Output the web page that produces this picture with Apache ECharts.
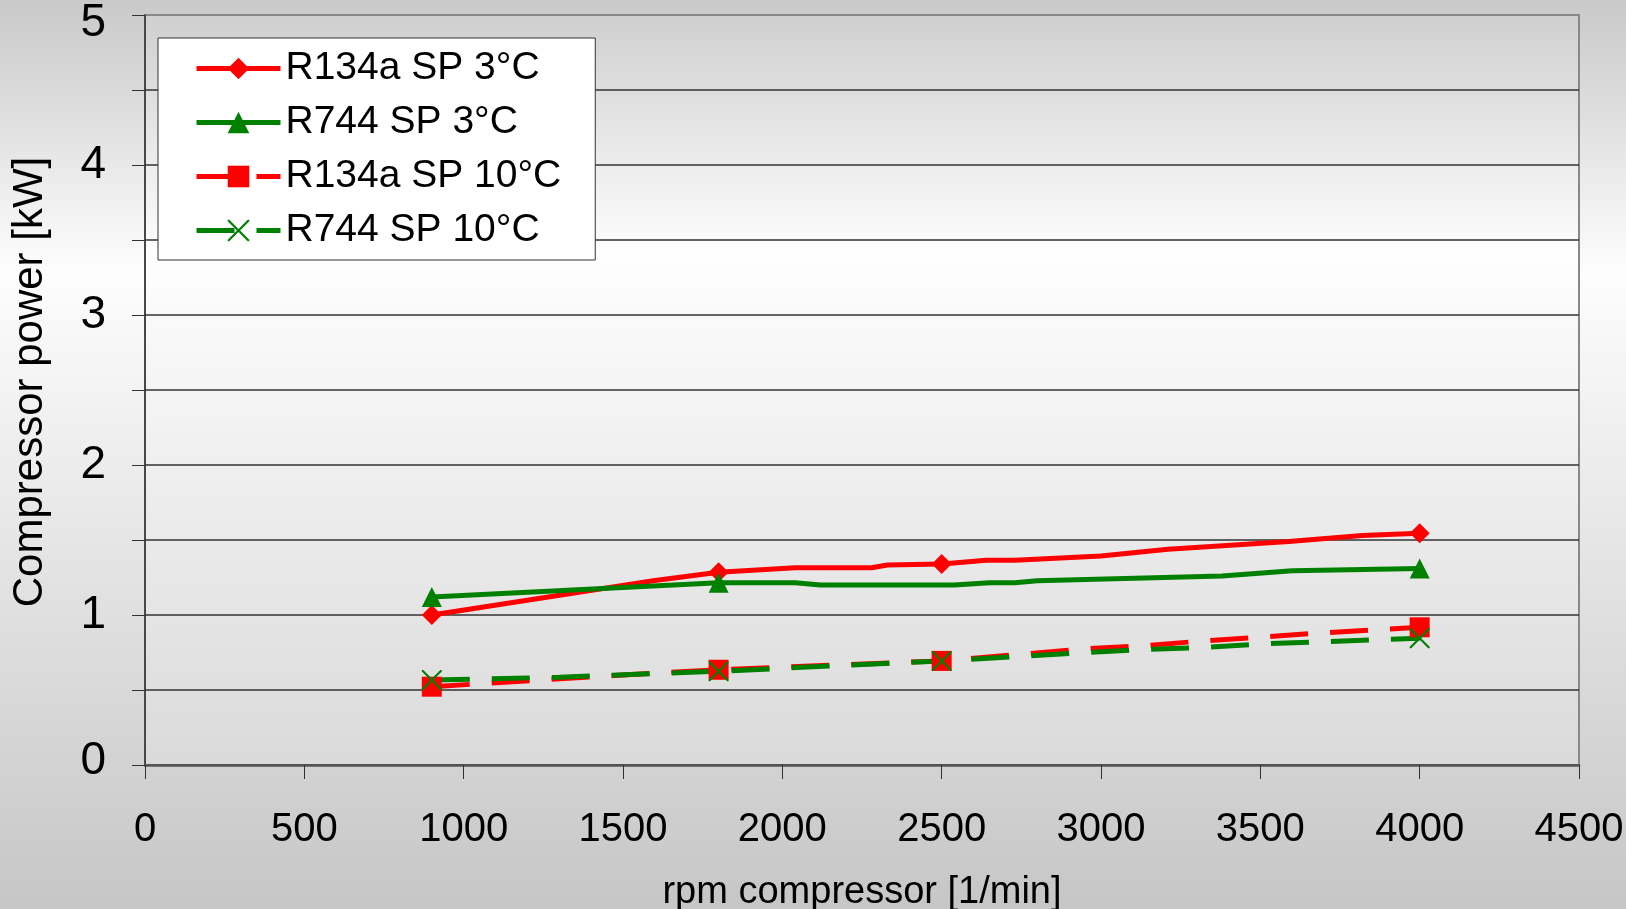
<!DOCTYPE html>
<html>
<head>
<meta charset="utf-8">
<script src="https://cdn.jsdelivr.net/npm/echarts@6/dist/echarts.min.js"></script>
<style>
  html, body { margin: 0; padding: 0; }
  #main { width: 1626px; height: 909px; }
</style>
</head>
<body>
<div id="main"></div>
<script>
// rpm values where the markers sit
var markerRpm = [900, 1800, 2500, 4000];

// R134a SP 3°C
var r134a3Rpm = [900, 1600, 1800, 2040, 2280, 2330, 2500, 2640, 2730, 3000, 3210, 3590, 3820, 4000];
var r134a3Kw  = [1.00, 1.23, 1.285, 1.315, 1.315, 1.333, 1.34, 1.365, 1.365, 1.394, 1.438, 1.49, 1.53, 1.545];

// R744 SP 3°C
var r7443Rpm = [900, 1800, 2040, 2120, 2540, 2650, 2730, 2800, 3380, 3600, 4000];
var r7443Kw  = [1.12, 1.215, 1.215, 1.20, 1.20, 1.215, 1.215, 1.228, 1.26, 1.295, 1.31];

// R134a SP 10°C
var r134a10Rpm = [900, 1500, 1800, 2500, 2760, 2950, 3140, 3320, 3690, 4000];
var r134a10Kw  = [0.522, 0.60, 0.635, 0.694, 0.74, 0.774, 0.796, 0.827, 0.88, 0.918];

// R744 SP 10°C
var r74410Rpm = [900, 1300, 1800, 2500, 2950, 3150, 3320, 3500, 4000];
var r74410Kw  = [0.567, 0.585, 0.625, 0.694, 0.75, 0.772, 0.783, 0.807, 0.845];

var seriesNames = ['R134a SP 3°C', 'R744 SP 3°C', 'R134a SP 10°C', 'R744 SP 10°C'];

var FONT = '"Liberation Sans", Arial, sans-serif';
var crossPath = 'path://M0,0 L1.5,0 L10,8.5 L18.5,0 L20,0 L20,1.5 L11.5,10 L20,18.5 L20,20 L18.5,20 L10,11.5 L1.5,20 L0,20 L0,18.5 L8.5,10 L0,1.5 Z';

function pts(xs, ys) {
    var out = [];
    for (var i = 0; i < xs.length; i++) {
        var item = { value: [xs[i], ys[i]] };
        if (markerRpm.indexOf(xs[i]) < 0) item.symbol = 'none';
        out.push(item);
    }
    return out;
}

function mkSeries(name, xs, ys, color, symbol, dashed) {
    return {
        name: name,
        type: 'line',
        data: pts(xs, ys),
        symbol: symbol,
        symbolSize: 20,
        showAllSymbol: true,
        itemStyle: { color: color },
        lineStyle: { color: color, width: 5, type: dashed ? [38, 22] : 'solid' },
        emphasis: { disabled: true },
        animation: false
    };
}

var chart = echarts.init(document.getElementById('main'));

var option = {
    backgroundColor: new echarts.graphic.LinearGradient(0, 0, 0, 1, [
        { offset: 0, color: '#c9c9c9' },
        { offset: 0.3, color: '#fdfdfd' },
        { offset: 1, color: '#c6c6c6' }
    ]),
    textStyle: { fontFamily: FONT },
    grid: {
        left: 145, right: 47, top: 15, bottom: 144,
        outerBoundsMode: 'none',
        containLabel: false,
        show: true,
        borderColor: '#888',
        borderWidth: 2,
        backgroundColor: new echarts.graphic.LinearGradient(0, 0, 0, 1, [
            { offset: 0, color: '#cfcfcf' },
            { offset: 0.32, color: '#fefefe' },
            { offset: 1, color: '#dadada' }
        ])
    },
    legend: {
        orient: 'vertical',
        left: 158,
        top: 38,
        data: seriesNames,
        itemWidth: 84,
        itemHeight: 27,
        itemGap: 15,
        padding: [11, 34, 10, 36],
        backgroundColor: '#fff',
        borderColor: '#333',
        borderWidth: 1,
        borderRadius: 0,
        selectedMode: false,
        lineStyle: { width: 5 },
        textStyle: { fontSize: 39, color: '#000', fontFamily: FONT, lineHeight: 27 }
    },
    xAxis: {
        type: 'value',
        min: 0, max: 4500, interval: 500,
        name: 'rpm compressor [1/min]',
        nameLocation: 'middle',
        nameGap: 109,
        nameTextStyle: { fontSize: 38, color: '#000', fontFamily: FONT },
        axisLine: { show: true, lineStyle: { color: '#555', width: 2.5 } },
        axisTick: { show: true, length: 14, lineStyle: { color: '#333', width: 1 } },
        axisLabel: {
            fontSize: 40, color: '#000', margin: 45, fontFamily: FONT,
            formatter: function (v) { return String(v); }
        },
        splitLine: { show: false }
    },
    yAxis: {
        type: 'value',
        min: 0, max: 5, interval: 0.5,
        name: 'Compressor power [kW]',
        nameLocation: 'middle',
        nameGap: 94,
        nameTextStyle: { fontSize: 42, color: '#000', fontFamily: FONT, padding: [0, 0, 0, 16] },
        axisLine: { show: true, lineStyle: { color: '#333', width: 1.5 } },
        axisTick: { show: true, length: 13, lineStyle: { color: '#333', width: 1 } },
        axisLabel: {
            fontSize: 46, color: '#000', margin: 39, fontFamily: FONT,
            formatter: function (v) {
                if (v === 5) return '{top|5}';
                if (v === 0) return '{bot|0}';
                return v % 1 === 0 ? String(v) : '';
            },
            rich: {
                top: { fontSize: 46, color: '#000', fontFamily: FONT, padding: [17, 0, 0, 0] },
                bot: { fontSize: 46, color: '#000', fontFamily: FONT, padding: [0, 0, 8, 0] }
            }
        },
        splitLine: {
            show: true,
            lineStyle: {
                color: ['#333', '#333', '#333', '#333', '#333', '#333', '#333', '#333', '#333', '#333', '#888'],
                width: 1.5
            }
        }
    },
    series: [
        mkSeries(seriesNames[0], r134a3Rpm, r134a3Kw, '#ff0000', 'diamond', false),
        mkSeries(seriesNames[1], r7443Rpm, r7443Kw, '#008000', 'triangle', false),
        mkSeries(seriesNames[2], r134a10Rpm, r134a10Kw, '#ff0000', 'rect', true),
        mkSeries(seriesNames[3], r74410Rpm, r74410Kw, '#008000', crossPath, true)
    ]
};

chart.setOption(option);
</script>
</body>
</html>
